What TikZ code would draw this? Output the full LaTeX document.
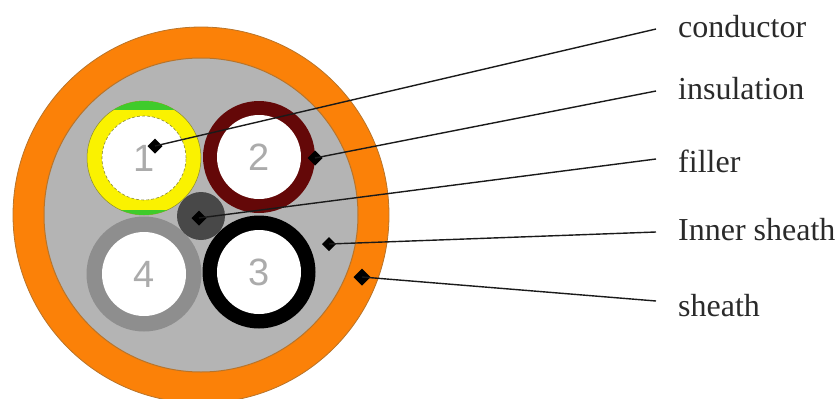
\documentclass[tikz,border=0pt]{standalone}
\usepackage{fontspec}
\setmainfont{Liberation Serif}
\newfontfamily\numfont{Liberation Sans}
\usetikzlibrary{shapes.geometric}
\definecolor{sheathc}{HTML}{FB8108}
\definecolor{innerc}{HTML}{B4B4B4}
\definecolor{edgec}{HTML}{B8742A}
\definecolor{yellowc}{HTML}{FAF200}
\definecolor{greenc}{HTML}{3FCB2B}
\definecolor{olivec}{HTML}{8A8A30}
\definecolor{maroonc}{HTML}{640808}
\definecolor{greyc}{HTML}{8E8E8E}
\definecolor{fillerc}{HTML}{484848}
\definecolor{numc}{HTML}{ABABAB}
\definecolor{linec}{HTML}{1A1A1A}
\definecolor{textc}{HTML}{2A2A2A}
\tikzset{
  disc/.style={circle,inner sep=0pt,outer sep=0pt,minimum size=#1},
  core/.style={disc=84pt,fill=white,text=numc,font=\numfont\fontsize{38}{38}\selectfont},
  dot/.style={diamond,aspect=1,fill=black,inner sep=0pt,outer sep=0pt,minimum size=15pt},
  lead/.style={draw=linec,line width=1.4pt},
  lbl/.style={anchor=base west,inner sep=0pt,text=textc,font=\fontsize{32}{32}\selectfont}
}
\begin{document}
\begin{tikzpicture}[x=1pt,y=-1pt]
\useasboundingbox (0,0) rectangle (839,399);
\clip (0,0) rectangle (839,399);
\node[disc=376pt,fill=sheathc,draw=edgec,line width=.8pt] (sheath) at (201,215) {};
\node[disc=314pt,fill=innerc,draw=edgec,line width=1pt] (inner) at (201,215) {};
% cable 1
\node[disc=114pt,fill=yellowc,draw=olivec,line width=.5pt] (ring1) at (144,158) {};
\begin{scope}
\clip (144,158) circle (57pt);
\fill[greenc] (80,95) rectangle (210,110);
\fill[greenc] (80,210) rectangle (210,220);
\end{scope}
\node[core,draw=olivec,densely dashed,line width=.6pt] (c1) at (144,158) {1};
% cable 2
\node[disc=112pt,fill=maroonc] (ring2) at (259,157) {};
\node[core] (c2) at (259,157) {2};
% cable 3
\node[disc=113pt,fill=black] (ring3) at (259,272) {};
\node[core] (c3) at (259,272) {3};
% cable 4
\node[disc=115pt,fill=greyc] (ring4) at (144,274) {};
\node[core] (c4) at (144,274) {4};
% filler
\node[disc=48pt,fill=fillerc] (fill) at (201,216) {};
% pointers
\node[dot] (d1) at (155,146) {};
\node[dot] (d2) at (315,158) {};
\node[dot] (d3) at (199,218) {};
\node[dot,minimum size=14pt] (d4) at (329,244) {};
\node[dot,minimum size=17pt] (d5) at (362,277) {};
% line ends
\coordinate (e1) at (656,29);
\coordinate (e2) at (656,91);
\coordinate (e3) at (656,159);
\coordinate (e4) at (656,232);
\coordinate (e5) at (656,301);
\draw[lead] (d1.center) -- (e1);
\draw[lead] (d2.center) -- (e2);
\draw[lead] (d3.center) -- (e3);
\draw[lead] (d4.center) -- (e4);
\draw[lead] (d5.center) -- (e5);
% labels
\node[lbl] (l1) at (678,37) {conductor};
\node[lbl] (l2) at (678,99) {insulation};
\node[lbl] (l3) at (678,172) {filler};
\node[lbl] (l4) at (678,240) {Inner sheath};
\node[lbl] (l5) at (678,316) {sheath};
\end{tikzpicture}
\end{document}
